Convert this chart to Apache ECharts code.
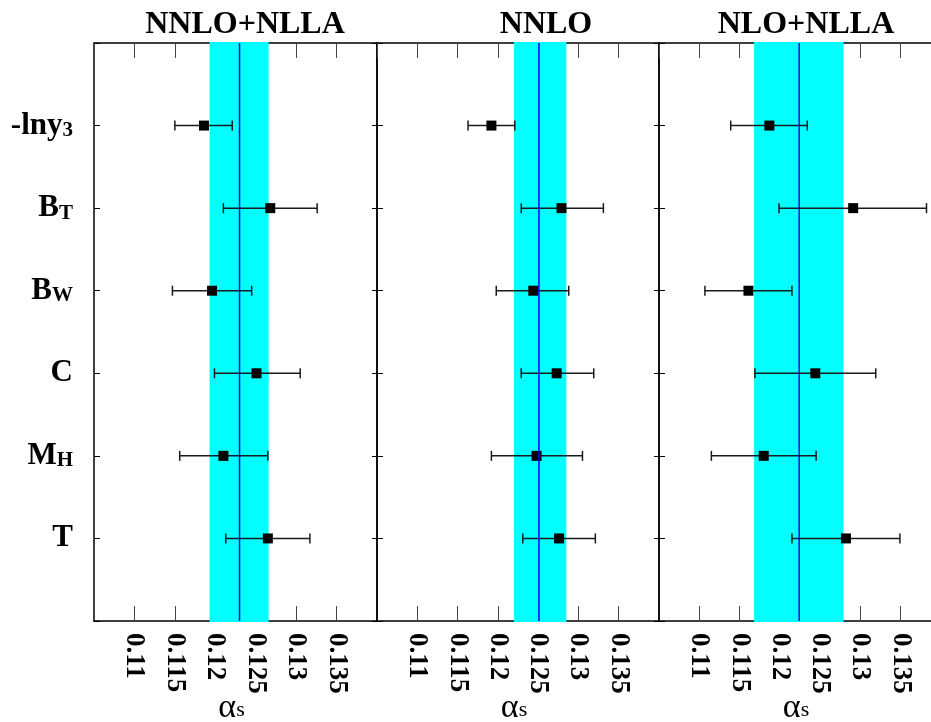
<!DOCTYPE html>
<html><head><meta charset="utf-8">
<script src="https://cdn.jsdelivr.net/npm/echarts@6/dist/echarts.min.js"></script>
<style>html,body{margin:0;padding:0;background:#fff}#c{width:931px;height:722px}</style>
</head><body><div id="c"></div>
<script>
// ---- data ----
const categories = ['-lny3', 'B_T', 'B_W', 'C', 'M_H', 'T'];
const catMain = ['-lny', 'B', 'B', 'C', 'M', 'T'];
const catSub = ['3', 'T', 'W', '', 'H', ''];
const panelTitles = ['NNLO+NLLA', 'NNLO', 'NLO+NLLA'];

const nnloNllaCentral = [0.1186, 0.1268, 0.1196, 0.1251, 0.1210, 0.1265];
const nnloNllaLow     = [0.1150, 0.1210, 0.1147, 0.1199, 0.1156, 0.1213];
const nnloNllaHigh    = [0.1221, 0.1326, 0.1245, 0.1305, 0.1265, 0.1317];

const nnloCentral = [0.1192, 0.1279, 0.1244, 0.1273, 0.1248, 0.1276];
const nnloLow     = [0.1163, 0.1229, 0.1198, 0.1229, 0.1192, 0.1231];
const nnloHigh    = [0.1221, 0.1331, 0.1288, 0.1319, 0.1305, 0.1321];

const nloNllaCentral = [0.1187, 0.1291, 0.1161, 0.1244, 0.1180, 0.1282];
const nloNllaLow     = [0.1139, 0.1199, 0.1107, 0.1169, 0.1115, 0.1215];
const nloNllaHigh    = [0.1234, 0.1382, 0.1215, 0.1319, 0.1245, 0.1349];

const bandLow  = [0.1193, 0.1220, 0.1168];
const bandHigh = [0.1266, 0.1285, 0.1279];
const bandMid  = [0.1230, 0.1251, 0.1224];

const xMin = 0.105, xMax = 0.140, xInterval = 0.005;
const yMin = 0, yMax = 7;

const panels = [
  {c: nnloNllaCentral, lo: nnloNllaLow, hi: nnloNllaHigh},
  {c: nnloCentral, lo: nnloLow, hi: nnloHigh},
  {c: nloNllaCentral, lo: nloNllaLow, hi: nloNllaHigh}
];

// ---- layout ----
const gridLefts = [94, 377, 659];
const gridWidths = [283, 282, 282];
const titleCenters = [240, 541, 801];
const FONT = 'Liberation Serif';

const chart = echarts.init(document.getElementById('c'));

function errRender(params, api) {
  const y = api.value(2);
  const p1 = api.coord([api.value(0), y]);
  const p2 = api.coord([api.value(1), y]);
  const h = 5;
  const st = {stroke: '#1a1a1a', lineWidth: 1.5};
  return {type: 'group', children: [
    {type: 'line', shape: {x1: p1[0], y1: p1[1], x2: p2[0], y2: p2[1]}, style: st},
    {type: 'line', shape: {x1: p1[0], y1: p1[1] - h, x2: p1[0], y2: p1[1] + h}, style: st},
    {type: 'line', shape: {x1: p2[0], y1: p2[1] - h, x2: p2[0], y2: p2[1] + h}, style: st}
  ]};
}
function bandRender(params, api) {
  const a = api.coord([api.value(0), yMax]);
  const b = api.coord([api.value(1), yMin]);
  return {type: 'rect', shape: {x: a[0], y: a[1] + 1, width: b[0] - a[0], height: b[1] - a[1] - 2},
    style: {fill: '#00ffff'}};
}
function midRender(params, api) {
  const a = api.coord([api.value(0), yMax]);
  const b = api.coord([api.value(0), yMin]);
  return {type: 'line', shape: {x1: a[0], y1: a[1], x2: b[0], y2: b[1]},
    style: {stroke: '#0000ff', lineWidth: 1.5}};
}

const grids = [], xAxes = [], yAxes = [], series = [], titles = [];
for (let i = 0; i < 3; i++) {
  grids.push({left: gridLefts[i], width: gridWidths[i], top: 43, height: 578,
    containLabel: false, outerBoundsMode: 'none'});
  titles.push({text: panelTitles[i], left: titleCenters[i], top: 4, textAlign: 'center',
    textStyle: {fontFamily: FONT, fontWeight: 'bold', fontSize: 32, color: '#000'}});
  xAxes.push({
    type: 'value', gridIndex: i, position: 'bottom', min: xMin, max: xMax, interval: xInterval,
    axisLine: {show: true, onZero: false, lineStyle: {color: '#000', width: 1.5}},
    axisTick: {show: true, inside: true, length: 15, lineStyle: {color: '#444', width: 1}},
    splitLine: {show: false},
    axisLabel: {show: true, rotate: -90, margin: 12, showMinLabel: false, showMaxLabel: false,
      fontFamily: FONT, fontWeight: 'bold', fontSize: 27, color: '#000',
      formatter: v => String(parseFloat(v.toFixed(3)))},
    name: '{a|α}{s|s}', nameLocation: 'middle', nameGap: 70, nameMoveOverlap: false,
    nameTextStyle: {padding: [0, 8, 0, 0], rich: {
      a: {fontFamily: FONT, fontSize: 34, color: '#000', lineHeight: 30, verticalAlign: 'top'},
      s: {fontFamily: FONT, fontSize: 22, color: '#000', lineHeight: 20, padding: [27, 0, 0, 0], verticalAlign: 'bottom'}
    }}
  });
  xAxes.push({
    type: 'value', gridIndex: i, position: 'top', min: xMin, max: xMax, interval: xInterval,
    axisLine: {show: true, onZero: false, lineStyle: {color: '#000', width: 1.5}},
    axisTick: {show: true, inside: true, length: 15, lineStyle: {color: '#444', width: 1}},
    splitLine: {show: false}, axisLabel: {show: false}
  });
  yAxes.push({
    type: 'value', gridIndex: i, position: 'left', min: yMin, max: yMax, interval: 1, inverse: true,
    axisLine: {show: true, onZero: false, lineStyle: {color: '#000', width: 1.5}},
    axisTick: {show: true, inside: true, length: 6, lineStyle: {color: '#000', width: 1}},
    splitLine: {show: false},
    axisLabel: {show: i === 0, margin: 21, align: 'right',
      formatter: v => {
        const k = Math.round(v) - 1;
        if (Math.abs(v - Math.round(v)) > 1e-6 || k < 0 || k >= categories.length) return '';
        return '{m|' + catMain[k] + '}' + (catSub[k] ? '{s|' + catSub[k] + '}' : '');
      },
      rich: {
        m: {fontFamily: FONT, fontWeight: 'bold', fontSize: 31, lineHeight: 31, verticalAlign: 'top', color: '#000'},
        s: {fontFamily: FONT, fontWeight: 'bold', fontSize: 21, lineHeight: 21, padding: [22, 0, 0, 0], verticalAlign: 'bottom', color: '#000'}
      }}
  });
  yAxes.push({
    type: 'value', gridIndex: i, position: 'right', min: yMin, max: yMax, interval: 1, inverse: true,
    show: i < 2,
    axisLine: {show: true, onZero: false, lineStyle: {color: '#000', width: 1.5}},
    axisTick: {show: true, inside: true, length: 5, lineStyle: {color: '#000', width: 1}},
    splitLine: {show: false}, axisLabel: {show: false}
  });

  const p = panels[i];
  series.push({type: 'custom', xAxisIndex: 2 * i, yAxisIndex: 2 * i, z: 1, silent: true,
    renderItem: bandRender, encode: {x: [0, 1]}, data: [[bandLow[i], bandHigh[i]]]});
  series.push({type: 'custom', xAxisIndex: 2 * i, yAxisIndex: 2 * i, z: 3, silent: true,
    renderItem: errRender, encode: {x: [0, 1], y: 2},
    data: p.c.map((_, k) => [p.lo[k], p.hi[k], k + 1])});
  series.push({type: 'scatter', xAxisIndex: 2 * i, yAxisIndex: 2 * i, z: 4, silent: true,
    symbol: 'rect', symbolSize: 10, itemStyle: {color: '#000', opacity: 1},
    data: p.c.map((v, k) => [v, k + 1])});
  series.push({type: 'custom', xAxisIndex: 2 * i, yAxisIndex: 2 * i, z: 5, silent: true,
    renderItem: midRender, encode: {x: 0}, data: [[bandMid[i]]]});
}

chart.setOption({
  animation: false,
  backgroundColor: '#fff',
  title: titles,
  grid: grids,
  xAxis: xAxes,
  yAxis: yAxes,
  series: series
});
</script></body></html>
